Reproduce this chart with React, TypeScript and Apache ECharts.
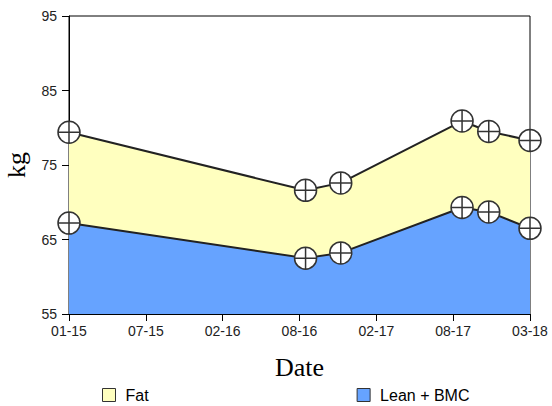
import React, { useEffect, useRef } from "react";
import * as echarts from "echarts";

// x values: months since Jan 2015
const monthsX = [0, 19.5, 22.4, 32.4, 34.6, 38];
const leanBmc = [67.2, 62.5, 63.2, 69.3, 68.7, 66.5];
const totalMass = [79.4, 71.6, 72.6, 80.9, 79.5, 78.3];
const tickLabels = ["01-15", "07-15", "02-16", "08-16", "02-17", "08-17", "03-18"];
const yTicks = [55, 65, 75, 85, 95];

const markerPath =
  "path://M0,-10A10,10,0,1,1,0,10A10,10,0,1,1,0,-10ZM-10,0L10,0M0,-10L0,10";

const FAT_COLOR = "#ffffbf";
const LEAN_COLOR = "#66a3ff";

export default function App() {
  const ref = useRef<HTMLDivElement>(null);
  useEffect(() => {
    if (!ref.current) return;
    const chart = echarts.init(ref.current, null, { renderer: "svg" });
    const span = monthsX[monthsX.length - 1];
    const interval = span / (tickLabels.length - 1);
    const marker = {
      symbol: markerPath,
      symbolSize: 22,
      showSymbol: true,
      showAllSymbol: true,
      itemStyle: { color: "#ffffff", borderColor: "#333333", borderWidth: 1.5 },
    };
    chart.setOption({
      animation: false,
      grid: {
        left: 69,
        right: 22,
        top: 16,
        bottom: 92,
        show: true,
        borderColor: "#000",
        borderWidth: 1,
        containLabel: false,
        outerBoundsMode: "none",
      },
      xAxis: {
        type: "value",
        min: 0,
        max: span,
        interval,
        name: "Date",
        nameLocation: "middle",
        nameGap: 40,
        nameTextStyle: { fontFamily: "Liberation Serif", fontSize: 26, color: "#000" },
        axisLine: { show: true, lineStyle: { color: "#000", width: 1 } },
        axisTick: { show: true, length: 7, lineStyle: { color: "#000" } },
        splitLine: { show: false },
        axisLabel: {
          fontFamily: "Liberation Sans",
          fontSize: 14,
          color: "#222",
          margin: 10,
          formatter: (v: number) => tickLabels[Math.round(v / interval)] ?? "",
        },
      },
      yAxis: {
        type: "value",
        min: yTicks[0],
        max: yTicks[yTicks.length - 1],
        interval: yTicks[1] - yTicks[0],
        name: "kg",
        nameLocation: "middle",
        nameGap: 40,
        nameTextStyle: { fontFamily: "Liberation Serif", fontSize: 26, color: "#000" },
        axisLine: { show: true, lineStyle: { color: "#000", width: 1 } },
        axisTick: { show: true, length: 7, lineStyle: { color: "#000" } },
        splitLine: { show: false },
        axisLabel: {
          fontFamily: "Liberation Sans",
          fontSize: 14,
          color: "#222",
          margin: 12,
        },
      },
      legend: {
        top: 382,
        left: 97,
        itemWidth: 13,
        itemHeight: 13,
        itemGap: 208,
        icon: "rect",
        textStyle: {
          fontFamily: "Liberation Sans",
          fontSize: 16,
          color: "#000",
          padding: [0, 0, 0, 5],
        },
        data: [
          { name: "Fat", itemStyle: { color: FAT_COLOR, borderColor: "#333", borderWidth: 1 } },
          { name: "Lean + BMC", itemStyle: { color: LEAN_COLOR, borderColor: "#333", borderWidth: 1 } },
        ],
      },
      series: [
        {
          name: "Fat",
          type: "line",
          clip: false,
          z: 2,
          data: monthsX.map((x, i) => [x, totalMass[i]]),
          lineStyle: { color: "#222", width: 2 },
          areaStyle: { color: FAT_COLOR, opacity: 1, origin: "start" },
          ...marker,
        },
        {
          name: "Lean + BMC",
          type: "line",
          clip: false,
          z: 3,
          data: monthsX.map((x, i) => [x, leanBmc[i]]),
          lineStyle: { color: "#222", width: 2 },
          areaStyle: { color: LEAN_COLOR, opacity: 1, origin: "start" },
          ...marker,
        },
      ],
    });
    return () => chart.dispose();
  }, []);
  return <div ref={ref} style={{ width: 552, height: 406, position: "absolute", left: 0, top: 0 }} />;
}
